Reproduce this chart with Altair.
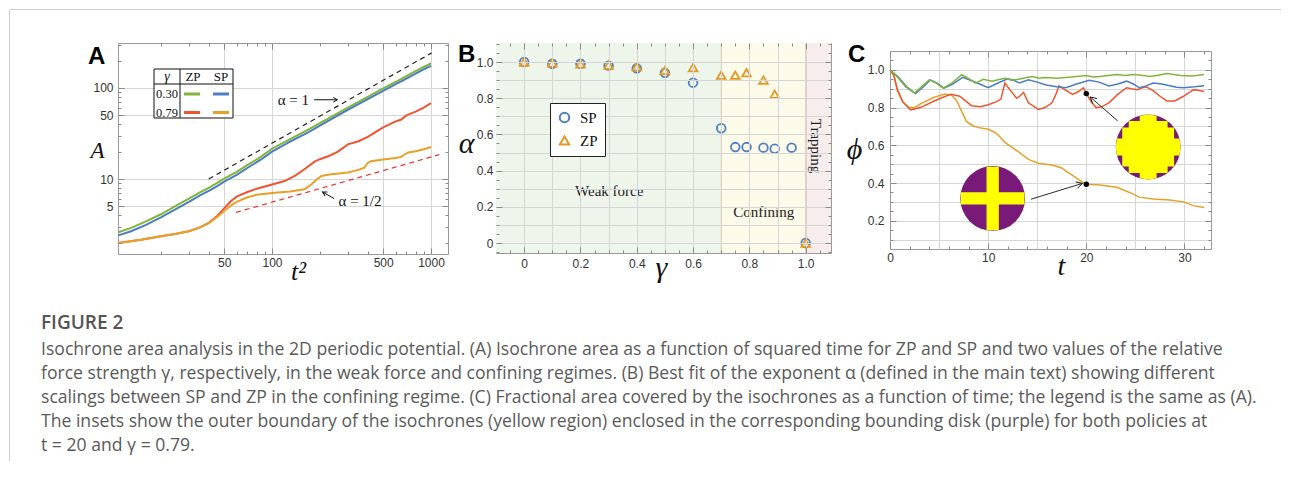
import altair as alt
import pandas as pd

# ---------------- Panel A : isochrone area A vs t^2 (log-log) ----------------
A_T2 = [10.8, 13, 16, 20, 25, 30, 35, 40, 45, 50, 60, 70, 85, 100, 130, 170, 200, 250, 300, 400, 500, 600, 700, 800, 900, 1000]
A_ZP030 = [2.6, 2.9, 3.4, 4.1, 5.1, 6.1, 7.1, 8.0, 9.0, 10.1, 12.0, 14.2, 17.5, 21.5, 27.5, 35, 41, 51, 61, 80, 99, 117, 135, 153, 170, 186]
A_SP030 = [2.4, 2.67, 3.12, 3.78, 4.7, 5.6, 6.55, 7.4, 8.3, 9.35, 11.1, 13.2, 16.3, 20.0, 25.7, 32.8, 38.5, 48, 57.3, 75.3, 93, 110, 127, 144, 160, 175]
A_ZP079_T2 = [10.8, 15, 20, 25, 30, 35, 40, 45, 50, 55, 60, 70, 80, 100, 120, 140, 160, 185, 200, 230, 260, 300, 350, 400, 450, 500, 600, 650, 700, 800, 900, 1000]
A_ZP079 = [1.98, 2.15, 2.35, 2.5, 2.67, 2.92, 3.3, 3.9, 4.75, 5.7, 6.4, 7.2, 7.8, 8.7, 9.5, 10.9, 12.8, 15.5, 16.5, 18, 20, 24, 26, 29, 33, 37, 43, 45, 50, 55, 61, 68]
A_SP079_T2 = [10.8, 15, 20, 25, 30, 35, 40, 45, 50, 55, 60, 70, 80, 100, 130, 160, 175, 190, 205, 230, 300, 350, 380, 400, 420, 500, 600, 650, 680, 720, 800, 900, 1000]
A_SP079 = [1.98, 2.15, 2.35, 2.5, 2.67, 2.92, 3.28, 3.8, 4.45, 5.1, 5.6, 6.3, 6.7, 7.0, 7.3, 7.7, 8.6, 9.8, 10.8, 11.2, 11.8, 12.6, 13.3, 15.0, 15.7, 16.4, 17.0, 17.5, 18.6, 19.6, 20.2, 21.2, 22.5]
A_REF1_T2, A_REF1 = [40, 1010], [10, 243]          # alpha = 1 guide
A_REF2_T2, A_REF2 = [59.4, 1127], [4.3, 18.5]      # alpha = 1/2 guide

# ---------------- Panel B : fitted exponent alpha vs gamma ----------------
B_SP_GAMMA = [0, 0.1, 0.2, 0.3, 0.4, 0.5, 0.6, 0.7, 0.75, 0.79, 0.85, 0.89, 0.95, 1.0]
B_SP_ALPHA = [1.0, 0.99, 0.99, 0.98, 0.965, 0.94, 0.886, 0.634, 0.53, 0.53, 0.527, 0.521, 0.527, 0.0]
B_ZP_GAMMA = [0, 0.1, 0.2, 0.3, 0.4, 0.5, 0.6, 0.7, 0.75, 0.79, 0.85, 0.89, 1.0]
B_ZP_ALPHA = [1.0, 0.995, 0.99, 0.983, 0.974, 0.954, 0.969, 0.927, 0.927, 0.941, 0.9, 0.822, 0.0]
B_REGION_EDGES = [-0.1, 0.7, 1.0, 1.09]
B_REGION_NAMES = ["Weak force", "Confining", "Trapping"]

# ---------------- Panel C : fractional area phi vs t ----------------
C_ZP030_T = [0, 0.8, 1.6, 2.5, 3.2, 4.0, 4.7, 5.4, 6.3, 7.3, 8.0, 8.7, 9.5, 10.4, 11.0, 11.7, 12.4, 13.1, 13.8, 14.5, 15.2, 15.9, 17.0, 17.9, 19.0, 20.0, 20.7, 21.4, 22.2, 23.1, 24.0, 24.8, 25.6, 26.5, 27.3, 28.2, 28.9, 29.6, 30.8, 32.0]
C_ZP030 = [1.0, 0.96, 0.91, 0.877, 0.91, 0.947, 0.93, 0.903, 0.93, 0.974, 0.955, 0.93, 0.95, 0.94, 0.948, 0.955, 0.945, 0.95, 0.958, 0.965, 0.955, 0.96, 0.955, 0.96, 0.965, 0.97, 0.962, 0.965, 0.97, 0.975, 0.97, 0.975, 0.972, 0.965, 0.972, 0.98, 0.975, 0.97, 0.968, 0.975]
C_SP030_T = [0, 0.8, 1.7, 2.6, 3.3, 4.1, 4.8, 5.5, 6.4, 7.4, 8.2, 8.9, 10.0, 11.0, 12.0, 12.6, 13.2, 14.1, 15.0, 15.9, 17.0, 17.9, 19.0, 20.3, 21.3, 22.3, 23.2, 24.1, 24.8, 25.4, 26.1, 26.8, 27.7, 28.5, 29.2, 29.9, 31.0, 32.0]
C_SP030 = [1.0, 0.965, 0.91, 0.874, 0.905, 0.947, 0.93, 0.903, 0.925, 0.96, 0.945, 0.93, 0.905, 0.93, 0.952, 0.945, 0.93, 0.947, 0.935, 0.92, 0.91, 0.905, 0.925, 0.945, 0.935, 0.915, 0.925, 0.94, 0.925, 0.905, 0.915, 0.93, 0.925, 0.916, 0.908, 0.905, 0.91, 0.916]
C_ZP079_T = [0, 0.4, 0.75, 1.3, 2.1, 3.1, 4.5, 5.4, 6.2, 7.1, 8.3, 9.2, 10.0, 10.8, 11.3, 11.7, 12.2, 12.9, 13.2, 13.6, 14.1, 15.1, 15.8, 16.5, 16.9, 17.2, 17.8, 18.6, 19.2, 19.7, 20.0, 20.5, 21.0, 21.6, 22.3, 23.2, 24.1, 24.6, 25.2, 25.7, 26.1, 26.8, 27.5, 28.2, 29.0, 29.9, 30.5, 30.9, 31.5, 32.0]
C_ZP079 = [1.0, 0.97, 0.895, 0.83, 0.788, 0.80, 0.835, 0.855, 0.87, 0.86, 0.81, 0.805, 0.815, 0.83, 0.845, 0.93, 0.895, 0.85, 0.86, 0.88, 0.825, 0.79, 0.8, 0.825, 0.87, 0.915, 0.895, 0.87, 0.885, 0.905, 0.875, 0.83, 0.80, 0.805, 0.825, 0.87, 0.905, 0.9, 0.895, 0.905, 0.91, 0.89, 0.86, 0.835, 0.835, 0.86, 0.88, 0.895, 0.89, 0.885]
C_SP079_T = [0, 0.4, 0.75, 1.3, 1.9, 2.5, 3.1, 4.5, 5.6, 6.3, 6.8, 7.3, 7.8, 8.4, 8.9, 10.0, 10.7, 11.2, 11.7, 12.4, 13.1, 14.1, 15.1, 16.5, 17.5, 18.0, 18.6, 19.3, 20.0, 21.4, 23.1, 24.4, 25.4, 26.8, 28.5, 29.9, 30.9, 32.0]
C_SP079 = [1.0, 0.97, 0.89, 0.83, 0.80, 0.80, 0.82, 0.855, 0.872, 0.865, 0.835, 0.78, 0.725, 0.705, 0.695, 0.685, 0.668, 0.645, 0.615, 0.59, 0.565, 0.525, 0.505, 0.495, 0.48, 0.46, 0.44, 0.415, 0.393, 0.39, 0.377, 0.35, 0.325, 0.315, 0.31, 0.30, 0.28, 0.27]
C_MARK_T, C_MARK_PHI = [20, 20], [0.393, 0.874]        # t = 20 snapshots
C_INSET_T, C_INSET_PHI = [10.46, 26.3], [0.318, 0.591]  # inset disk centres

CAPTION_TITLE = "FIGURE 2"
CAPTION_LINES = [
    "Isochrone area analysis in the 2D periodic potential. (A) Isochrone area as a function of squared time for ZP and SP and two values of the relative",
    "force strength γ, respectively, in the weak force and confining regimes. (B) Best fit of the exponent α (defined in the main text) showing different",
    "scalings between SP and ZP in the confining regime. (C) Fractional area covered by the isochrones as a function of time; the legend is the same as (A).",
    "The insets show the outer boundary of the isochrones (yellow region) enclosed in the corresponding bounding disk (purple) for both policies at",
    "t = 20 and γ = 0.79.",
]

# ---------------- styles ----------------
SERIF, SANS, CAPF = "Liberation Serif", "Liberation Sans", "Open Sans"
GREEN, BLUE, RED, ORANGE = "#80b53a", "#4b7cc4", "#ef5530", "#e8a028"
BLUE_B, ORANGE_B = "#4f7fc0", "#e39a25"
PURPLE, YELLOW = "#7a1a78", "#ffff00"
GRID, TICK, FRAME, LABEL, INK = "#d6d6d6", "#8a8a8a", "#9a9a9a", "#333333", "#111111"
MAJ, MIN_ = 6, 3
WA, HA, WB, HB, WC, HC = 330, 211, 335, 210, 321, 198
GAP_AB, GAP_BC = 48, 59
CHEVRON = "M-1,-0.55L0,0L-1,0.55"
DUMMY = pd.DataFrame({"k": [0]})


def rng(a, b, step):
    n = int(round((b - a) / step))
    return [round(a + i * step, 4) for i in range(n + 1)]


def frame(df, xf, yf, xs, ys, X, Y, zgrid=0):
    base = alt.Chart(df).mark_point(opacity=0)

    def lab(orient, spec):
        return alt.Axis(orient=orient, values=spec["major"], offset=-MAJ, tickSize=MAJ, tickColor=TICK,
                        tickWidth=1, domain=False, grid=False, labelExpr=spec["expr"], labelPadding=spec["pad"],
                        labelFont=SANS, labelFontSize=12, labelColor=LABEL, labelFlush=False,
                        labelOverlap=False, zindex=1, **spec["title"])

    def grid(orient, spec):
        return alt.Axis(orient=orient, values=spec["grid"], grid=True, gridColor=GRID, gridWidth=1,
                        ticks=False, labels=False, domain=False, title="", zindex=zgrid)

    def tk(orient, vals, size):
        return alt.Axis(orient=orient, values=vals, offset=-size, tickSize=size, tickColor=TICK, tickWidth=1,
                        labels=False, domain=False, grid=False, title="", zindex=1)

    def enc(xa, ya):
        return base.encode(x=alt.X(f"{xf}:Q", scale=xs, axis=xa), y=alt.Y(f"{yf}:Q", scale=ys, axis=ya))

    return [
        enc(grid("bottom", X), grid("left", Y)),
        enc(lab("bottom", X), lab("left", Y)),
        enc(tk("bottom", X["minor"], MIN_), tk("left", Y["minor"], MIN_)),
        enc(tk("top", X["major"], MAJ), tk("right", Y["major"], MAJ)),
        enc(tk("top", X["minor"], MIN_), tk("right", Y["minor"], MIN_)),
    ]


def title_kw(text, size, tx, ty):
    return dict(title=text, titleFont=SERIF, titleFontStyle="italic", titleFontWeight="normal",
                titleFontSize=size, titleColor=INK, titleAngle=0, titleAlign="center",
                titleBaseline="middle", titleX=tx, titleY=ty)


def line(df, xf, yf, xs, ys, color, width=2.0, dash=None):
    kw = dict(color=color, strokeWidth=width)
    if dash:
        kw["strokeDash"] = dash
    return alt.Chart(df).mark_line(**kw).encode(
        x=alt.X(f"{xf}:Q", scale=xs, axis=None), y=alt.Y(f"{yf}:Q", scale=ys, axis=None))


def arrow(x0, y0, x1, y1, ang, xs, ys, color=INK, head=120, width=1.0):
    d = pd.DataFrame({"x0": [x0], "y0": [y0], "x1": [x1], "y1": [y1]})
    shaft = alt.Chart(d).mark_rule(color=color, strokeWidth=width).encode(
        x=alt.X("x0:Q", scale=xs, axis=None), y=alt.Y("y0:Q", scale=ys, axis=None), x2="x1:Q", y2="y1:Q")
    tip = alt.Chart(d).mark_point(shape=CHEVRON, filled=False, color=color, strokeWidth=width,
                                  size=head, angle=ang, opacity=1).encode(
        x=alt.X("x1:Q", scale=xs, axis=None), y=alt.Y("y1:Q", scale=ys, axis=None))
    return [shaft, tip]


def dtext(txt, x, y, xs, ys, **kw):
    d = pd.DataFrame({"x": [x], "y": [y]})
    return alt.Chart(d).mark_text(text=txt, **kw).encode(
        x=alt.X("x:Q", scale=xs, axis=None), y=alt.Y("y:Q", scale=ys, axis=None))


def ptext(txt, x, y, **kw):
    return alt.Chart(DUMMY).mark_text(text=txt, **kw).encode(x=alt.value(x), y=alt.value(y))


def prule(color, width, **pos):
    return alt.Chart(DUMMY).mark_rule(color=color, strokeWidth=width).encode(
        **{k: alt.value(v) for k, v in pos.items()})


def letter(ch, x, y):
    return ptext(ch, x, y, font=SANS, fontWeight="bold", fontSize=24, color="#000", align="left",
                 baseline="alphabetic")


# ================= Panel A =================
xsA = alt.Scale(type="log", domain=[10.75, 1279], nice=False)
ysA = alt.Scale(type="log", domain=[1.5, 312], nice=False)
dfA1 = pd.DataFrame({"t2": A_T2, "zp": A_ZP030, "sp": A_SP030})
dfA2 = pd.DataFrame({"t2": A_ZP079_T2, "a": A_ZP079})
dfA3 = pd.DataFrame({"t2": A_SP079_T2, "a": A_SP079})
dfR1 = pd.DataFrame({"t2": A_REF1_T2, "a": A_REF1})
dfR2 = pd.DataFrame({"t2": A_REF2_T2, "a": A_REF2})

XA = dict(major=[50, 100, 500, 1000], minor=[20, 30, 40, 60, 70, 80, 90, 200, 300, 400, 600, 700, 800, 900],
          grid=[50, 100, 500, 1000], expr="format(datum.value, 'd')", pad=3,
          title=title_kw("t²", 26, 180, 23))
YA = dict(major=[5, 10, 50, 100], minor=[2, 3, 4, 6, 7, 8, 9, 20, 30, 40, 60, 70, 80, 90, 200, 300],
          grid=[5, 10, 50, 100], expr="format(datum.value, 'd')", pad=5,
          title=title_kw("A", 23, -27, 107))

legA = [
    alt.Chart(DUMMY).mark_rect(fill="white", stroke=INK, strokeWidth=1).encode(
        x=alt.value(36), x2=alt.value(115), y=alt.value(26), y2=alt.value(75)),
    prule(INK, 1, x=62, y=26, y2=75),
    prule(INK, 1, x=36, x2=115, y=41),
    ptext("γ", 49, 34, font=SERIF, fontStyle="italic", fontSize=14, color=INK),
    ptext("ZP", 75, 34, font=SERIF, fontSize=13, color=INK),
    ptext("SP", 103, 34, font=SERIF, fontSize=13, color=INK),
    ptext("0.30", 49, 51, font=SERIF, fontSize=12.5, color=INK),
    ptext("0.79", 49, 70, font=SERIF, fontSize=12.5, color=INK),
    prule(GREEN, 3, x=66, x2=82, y=51),
    prule(BLUE, 3, x=95, x2=111, y=51),
    prule(RED, 3, x=66, x2=82, y=69.5),
    prule(ORANGE, 3, x=95, x2=111, y=69.5),
]

layersA = frame(dfA1, "t2", "zp", xsA, ysA, XA, YA) + [
    line(dfR1, "t2", "a", xsA, ysA, "#222", 1.2, [5, 4]),
    line(dfR2, "t2", "a", xsA, ysA, "#ee3030", 1.2, [5, 4]),
    line(dfA1, "t2", "zp", xsA, ysA, GREEN, 2),
    line(dfA1, "t2", "sp", xsA, ysA, BLUE, 2),
    line(dfA2, "t2", "a", xsA, ysA, RED, 2),
    line(dfA3, "t2", "a", xsA, ysA, ORANGE, 2),
    dtext("α = 1", 108.6, 74.2, xsA, ysA, font=SERIF, fontSize=15, color=INK, align="left", baseline="middle"),
    dtext("α = 1/2", 262, 5.69, xsA, ysA, font=SERIF, fontSize=15, color=INK, align="left", baseline="middle"),
] + arrow(184, 74.2, 258, 74.2, 0, xsA, ysA, head=70) + arrow(246, 6.09, 208, 7.2, 209.6, xsA, ysA, head=70) \
  + legA + [letter("A", -30, 21)]

chartA = alt.layer(*layersA).resolve_axis(x="independent", y="independent").properties(width=WA, height=HA)

# ================= Panel B =================
xsB = alt.Scale(domain=[-0.1, 1.09], nice=False, zero=False)
ysB = alt.Scale(domain=[-0.055, 1.105], nice=False, zero=False)
dfB = pd.DataFrame({
    "gamma": B_SP_GAMMA + B_ZP_GAMMA,
    "alpha": B_SP_ALPHA + B_ZP_ALPHA,
    "policy": ["SP"] * len(B_SP_GAMMA) + ["ZP"] * len(B_ZP_GAMMA),
})
b_major = rng(0, 1.0, 0.2)
b_minor = [v for v in rng(-0.05, 1.05, 0.05) if v not in b_major]
b_minor_y = [v for v in rng(-0.05, 1.1, 0.05) if v not in b_major]
XB = dict(major=b_major, minor=b_minor, grid=rng(0, 1.0, 0.1),
          expr="datum.value == 0 ? '0' : format(datum.value, '.1f')", pad=5,
          title=title_kw("γ", 30, 165, 20))
YB = dict(major=b_major, minor=b_minor_y, grid=rng(0, 1.0, 0.1),
          expr="datum.value == 0 ? '0' : format(datum.value, '.1f')", pad=3,
          title=title_kw("α", 30, -36, 100))

region_fill = ["#eef6ec", "#fcfae8", "#f8eded"]
region_edge = [None, "#f2d49a", "#e6c3bd"]
bg = []
for i, name in enumerate(B_REGION_NAMES):
    d = pd.DataFrame({"x0": [B_REGION_EDGES[i]], "x1": [B_REGION_EDGES[i + 1]]})
    bg.append(alt.Chart(d).mark_rect(fill=region_fill[i]).encode(
        x=alt.X("x0:Q", scale=xsB, axis=None), x2="x1:Q", y=alt.value(0), y2=alt.value(HB)))
    if region_edge[i]:
        bg.append(alt.Chart(d).mark_rule(color=region_edge[i], strokeWidth=1).encode(
            x=alt.X("x0:Q", scale=xsB, axis=None)))

# the legend is lifted to the top-level group, whose origin is panel A's plot corner
legB = alt.Legend(orient="none", legendX=WA + GAP_AB + 54, legendY=60, title=None, fillColor="white",
                  strokeColor="#222", padding=7, labelFont=SERIF, labelFontSize=15, labelColor=INK,
                  symbolSize=90, symbolStrokeWidth=2, rowPadding=5, labelOffset=8, offset=0)
pointsB = alt.Chart(dfB).mark_point(filled=False, size=75, strokeWidth=1.8, opacity=1).encode(
    x=alt.X("gamma:Q", scale=xsB, axis=None),
    y=alt.Y("alpha:Q", scale=ysB, axis=None),
    color=alt.Color("policy:N", scale=alt.Scale(domain=["SP", "ZP"], range=[BLUE_B, ORANGE_B]), legend=legB),
    shape=alt.Shape("policy:N", scale=alt.Scale(domain=["SP", "ZP"], range=["circle", "triangle-up"]), legend=legB),
)

layersB = bg + frame(dfB, "gamma", "alpha", xsB, ysB, XB, YB, zgrid=1) + [
    pointsB,
    dtext("Weak force", 0.302, 0.287, xsB, ysB, font=SERIF, fontSize=15, color="#222"),
    dtext("Confining", 0.851, 0.171, xsB, ysB, font=SERIF, fontSize=15, color="#222"),
    dtext("Trapping", 1.035, 0.536, xsB, ysB, font=SERIF, fontSize=15, color="#222", angle=90),
    letter("B", -38, 19),
]
chartB = alt.layer(*layersB).resolve_axis(x="independent", y="independent").properties(width=WB, height=HB)

# ================= Panel C =================
xsC = alt.Scale(domain=[0, 32.7], nice=False, zero=False)
ysC = alt.Scale(domain=[0.05, 1.1], nice=False, zero=False)
dfC1 = pd.DataFrame({"t": C_ZP030_T, "phi": C_ZP030})
dfC2 = pd.DataFrame({"t": C_SP030_T, "phi": C_SP030})
dfC3 = pd.DataFrame({"t": C_ZP079_T, "phi": C_ZP079})
dfC4 = pd.DataFrame({"t": C_SP079_T, "phi": C_SP079})
dfMark = pd.DataFrame({"t": C_MARK_T, "phi": C_MARK_PHI})
XC = dict(major=[0, 10, 20, 30], minor=[v for v in range(2, 33, 2) if v % 10], grid=[5, 10, 15, 20, 25, 30],
          expr="format(datum.value, 'd')", pad=3, title=title_kw("t", 28, 171, 23))
c_major = rng(0.2, 1.0, 0.2)
YC = dict(major=c_major, minor=[v for v in rng(0.1, 1.05, 0.05) if v not in c_major], grid=rng(0.1, 1.0, 0.1),
          expr="format(datum.value, '.1f')", pad=6, title=title_kw("ϕ", 30, -42, 98))

w = 0.19
e = round((1 - w * w) ** 0.5, 3)
CROSS = (f"M{-w},{-e}L{w},{-e}L{w},{-w}L{e},{-w}L{e},{w}L{w},{w}L{w},{e}L{-w},{e}"
         f"L{-w},{w}L{-e},{w}L{-e},{-w}L{-w},{-w}Z")
quad = [(0.0, -1.0), (0.26, -0.966), (0.26, -0.8), (0.6, -0.8), (0.6, -0.6), (0.8, -0.6), (0.8, -0.26), (0.966, -0.26)]
pts = []
for k in range(4):
    for (x, y) in quad:
        for _ in range(k):
            x, y = -y, x
        pts.append((x, y))
COG = "M" + "L".join(f"{x:.3f},{y:.3f}" for x, y in pts) + "Z"
INSET_SIZE = 4200


def inset(i, path):
    d = pd.DataFrame({"t": [C_INSET_T[i]], "phi": [C_INSET_PHI[i]]})
    enc = dict(x=alt.X("t:Q", scale=xsC, axis=None), y=alt.Y("phi:Q", scale=ysC, axis=None))
    return [
        alt.Chart(d).mark_point(shape="circle", filled=True, color=PURPLE, size=INSET_SIZE, opacity=1,
                                strokeWidth=0).encode(**enc),
        alt.Chart(d).mark_point(shape=path, filled=True, color=YELLOW, size=INSET_SIZE, opacity=1,
                                strokeWidth=0).encode(**enc),
    ]


layersC = frame(dfC1, "t", "phi", xsC, ysC, XC, YC) + [
    line(dfC4, "t", "phi", xsC, ysC, ORANGE, 1.5),
    line(dfC3, "t", "phi", xsC, ysC, RED, 1.5),
    line(dfC2, "t", "phi", xsC, ysC, BLUE, 1.5),
    line(dfC1, "t", "phi", xsC, ysC, GREEN, 1.5),
    alt.Chart(dfMark).mark_point(filled=True, color="#000", size=30, opacity=1).encode(
        x=alt.X("t:Q", scale=xsC, axis=None), y=alt.Y("phi:Q", scale=ysC, axis=None)),
] + inset(0, CROSS) + inset(1, COG) \
  + arrow(14.36, 0.314, 19.6, 0.398, 343.8, xsC, ysC, head=150, width=0.9) \
  + arrow(23.2, 0.729, 20.4, 0.856, 221.2, xsC, ysC, head=150, width=0.9) \
  + [letter("C", -42, 11)]
chartC = alt.layer(*layersC).resolve_axis(x="independent", y="independent").properties(width=WC, height=HC)

spacer = alt.Chart(DUMMY).mark_point(opacity=0).properties(
    width=WC, height=1, view=alt.ViewBackground(stroke="transparent"))

# ================= caption + page frame =================
dfCap = pd.DataFrame({"i": list(range(len(CAPTION_LINES))), "line": CAPTION_LINES})
caption = alt.layer(
    ptext(CAPTION_TITLE, -77, 12, font=CAPF, fontWeight=600, fontSize=19, color="#555555", align="left",
          baseline="middle"),
    alt.Chart(dfCap).mark_text(font=CAPF, fontSize=17.6, color="#5a5a5a", align="left", baseline="middle").encode(
        x=alt.value(-77),
        y=alt.Y("i:Q", scale=alt.Scale(domain=[0, 4], range=[39, 135]), axis=None),
        text="line:N"),
    prule("#cfcfcf", 1, x=-108.5, y=-301.5, y2=150),
    prule("#cfcfcf", 1, x=-108.5, x2=1163, y=-301.5),
).properties(width=1100, height=140, view=alt.ViewBackground(stroke="transparent"))

rowBC = alt.hconcat(chartB, alt.vconcat(spacer, chartC, spacing=7, bounds="flush"), spacing=GAP_BC, bounds="flush")
row = alt.hconcat(chartA, rowBC, spacing=GAP_AB, bounds="flush")
# a nested concat counts as zero height in a flush layout, so the gap includes panel A's height
chart = alt.vconcat(row, caption, spacing=HA + 57, bounds="flush", padding=0).configure_view(
    stroke=FRAME, strokeWidth=1)

chart.save("out.html", embed_options={"renderer": "svg", "actions": False})
